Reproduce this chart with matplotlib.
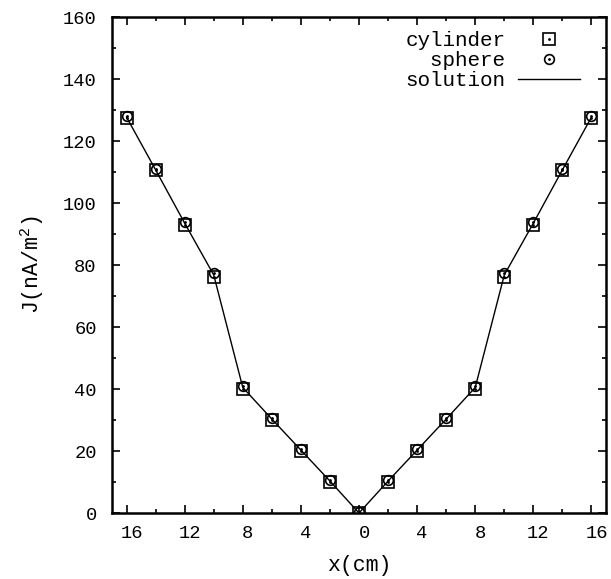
import matplotlib
matplotlib.use("Agg")
import matplotlib.pyplot as plt
import matplotlib.transforms as mtransforms
from matplotlib.ticker import MultipleLocator, FixedLocator, FixedFormatter

plt.rcParams['font.family'] = ['Liberation Mono', 'DejaVu Sans Mono']
plt.rcParams['mathtext.fontset'] = 'custom'
plt.rcParams['mathtext.rm'] = 'Liberation Mono'
plt.rcParams['mathtext.it'] = 'Liberation Mono'

# data
x_pos = [-16, -14, -12, -10, -8, -6, -4, -2, 0, 2, 4, 6, 8, 10, 12, 14, 16]
cylinder = [127.5, 110.5, 93.0, 76.0, 40.0, 30.0, 20.0, 10.0, 0.0,
            10.0, 20.0, 30.0, 40.0, 76.0, 93.0, 110.5, 127.5]
sphere = [128.0, 111.0, 94.0, 77.5, 41.0, 30.5, 20.5, 10.5, 0.3,
          10.5, 20.5, 30.5, 41.0, 77.5, 94.0, 111.0, 128.0]
solution = [127.7, 110.7, 93.5, 76.8, 40.5, 30.3, 20.3, 10.3, 0.0,
            10.3, 20.3, 30.3, 40.5, 76.8, 93.5, 110.7, 127.7]
xticks = [-16, -12, -8, -4, 0, 4, 8, 12, 16]
xtick_labels = ['16', '12', '8', '4', '0', '4', '8', '12', '16']
yticks = [0, 20, 40, 60, 80, 100, 120, 140, 160]

fig = plt.figure(figsize=(6.11, 5.79), dpi=100)
ax = fig.add_axes([112/611, 1-513/579, (606-112)/611, (513-17)/579])

ax.plot(x_pos, solution, color='black', lw=1.0, zorder=2)
sq, = ax.plot(x_pos, cylinder, ls='none', marker='s', ms=8, mfc='none',
              mec='black', mew=1.2, zorder=3)
sqd, = ax.plot(x_pos, cylinder, ls='none', marker='.', ms=2.0, color='black', zorder=3)
ci, = ax.plot(x_pos, sphere, ls='none', marker='o', ms=7, mfc='none',
              mec='black', mew=1.2, zorder=3)
cid, = ax.plot(x_pos, sphere, ls='none', marker='.', ms=2.0, color='black', zorder=3)
ln, = ax.plot([], [], color='black', lw=1.0)

ax.set_xlim(-17, 17)
ax.set_ylim(0, 160)
ax.xaxis.set_major_locator(FixedLocator(xticks))
ax.xaxis.set_major_formatter(FixedFormatter(xtick_labels))
ax.xaxis.set_minor_locator(MultipleLocator(2))
ax.yaxis.set_major_locator(FixedLocator(yticks))
ax.yaxis.set_minor_locator(MultipleLocator(10))

ax.tick_params(which='both', direction='in', top=True, right=True,
               labelsize=13.5, colors='black', width=1.2)
ax.tick_params(which='major', length=6)
ax.tick_params(which='minor', length=3)
ax.tick_params(axis='x', pad=9)
ax.tick_params(axis='y', pad=11)
for s in ax.spines.values():
    s.set_linewidth(1.8)

offset = mtransforms.ScaledTranslation(5/100, 0, fig.dpi_scale_trans)
for lab in ax.get_xticklabels():
    lab.set_transform(lab.get_transform() + offset)

ax.set_xlabel('x(cm)', fontsize=15.5, labelpad=9)
ax.set_ylabel('J(nA/m$^2$)', fontsize=15.5, labelpad=12)

leg = ax.legend([(sq, sqd), (ci, cid), ln],
                ['cylinder', '  sphere', 'solution'],
                loc='upper right', frameon=False, markerfirst=False,
                fontsize=15, handlelength=3.0, handletextpad=0.6,
                labelspacing=0.05, borderaxespad=0.0,
                bbox_to_anchor=(0.965, 0.988))

fig.savefig('out.png', dpi=100)
